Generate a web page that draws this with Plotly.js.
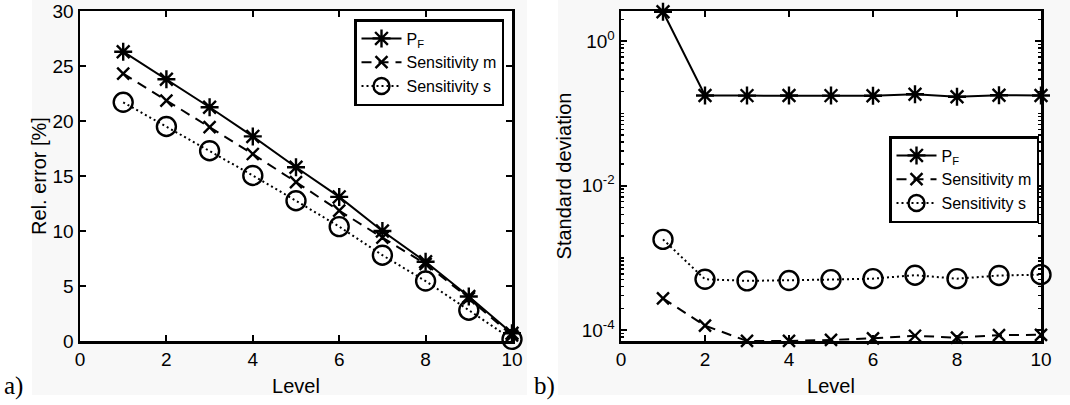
<!DOCTYPE html>
<html><head><meta charset="utf-8">
<script src="https://cdn.plot.ly/plotly-3.0.1.min.js"></script>
<style>html,body{margin:0;padding:0;background:#fff}</style>
</head><body>
<div id="chart" style="width:1070px;height:405px"></div>
<script>
const levels = [1,2,3,4,5,6,7,8,9,10];
// a) relative error [%]
const relErrPF   = [26.3, 23.8, 21.25, 18.6, 15.8, 13.1, 10.0, 7.2, 4.05, 0.7];
const relErrSensM = [24.3, 21.85, 19.45, 17.0, 14.45, 11.85, 9.4, 7.0, 3.9, 0.5];
const relErrSensS = [21.7, 19.5, 17.3, 15.05, 12.75, 10.4, 7.8, 5.45, 2.8, 0.15];
// b) standard deviation
const stdPF    = [2.55, 0.177, 0.176, 0.177, 0.176, 0.175, 0.184, 0.170, 0.178, 0.177];
const stdSensM = [2.75e-4, 1.15e-4, 7.08e-5, 7.08e-5, 7.3e-5, 7.7e-5, 8.35e-5, 7.85e-5, 8.5e-5, 8.6e-5];
const stdSensS = [1.8e-3, 5.05e-4, 4.8e-4, 4.85e-4, 5.0e-4, 5.15e-4, 5.75e-4, 5.15e-4, 5.7e-4, 5.85e-4];
const names = ['P<sub>F</sub>', 'Sensitivity m', 'Sensitivity s'];
const xTicks = [0,2,4,6,8,10];
const yTicksA = [0,5,10,15,20,25,30];
const yTicksB = [1e-4, 1e-2, 1];
const yTickTextB = ['10<sup>-4</sup>', '10<sup>-2</sup>', '10<sup>0</sup>'];

const styles = [
  {dash:'solid', symbol:'asterisk-open', size:15},
  {dash:'10px,7px', symbol:'x-thin-open', size:12},
  {dash:'2px,3px', symbol:'circle-open', size:19}
];
function mk(y, i, xa, ya, leg){
  return {x: levels, y: y, name: names[i], xaxis: xa, yaxis: ya, legend: leg,
    mode: 'lines+markers', cliponaxis: false,
    line: {color:'#000', width:2, dash: styles[i].dash},
    marker: {symbol: styles[i].symbol, size: styles[i].size, color:'#000', line:{color:'#000', width:2.4}}};
}
const data = [
  mk(relErrPF,0,'x','y','legend'), mk(relErrSensM,1,'x','y','legend'), mk(relErrSensS,2,'x','y','legend'),
  mk(stdPF,0,'x2','y2','legend2'), mk(stdSensM,1,'x2','y2','legend2'), mk(stdSensS,2,'x2','y2','legend2')
];
const font = {family:'Liberation Sans, Arial, sans-serif', size:19, color:'#000'};
const titleFont = {family:'Liberation Sans, Arial, sans-serif', size:20, color:'#000'};
const legFont = {family:'Liberation Sans, Arial, sans-serif', size:16, color:'#000'};
const axBase = {showgrid:false, zeroline:false, showline:true, linecolor:'#000', linewidth:2.5,
  mirror:'ticks', ticks:'inside', ticklen:6, tickwidth:2, tickcolor:'#000', tickfont:font,
  ticklabeloverflow:'allow'};
const W = 1070, H = 405;
const yTop = 394/H;
const layout = {
  width: W, height: H, margin:{l:0,r:0,t:0,b:0}, paper_bgcolor:'#fff', plot_bgcolor:'#fff',
  font: font, showlegend: true,
  xaxis: Object.assign({}, axBase, {domain:[80/W, 512/W], range:[0,10], tickvals:xTicks, anchor:'y',
    title:{text:'Level', font:titleFont, standoff:10}}),
  yaxis: Object.assign({}, axBase, {domain:[64/H, yTop], range:[0,30.0001], tickvals:yTicksA, anchor:'x',
    title:{text:'Rel. error [%]', font:titleFont, standoff:1}}),
  xaxis2: Object.assign({}, axBase, {domain:[621/W, 1041/W], range:[0,10], tickvals:xTicks, anchor:'y2',
    title:{text:'Level', font:titleFont, standoff:10}}),
  yaxis2: Object.assign({}, axBase, {domain:[64/H, yTop], type:'log', range:[Math.log10(7.06e-5), Math.log10(2.61)],
    tickmode:'array', tickvals:yTicksB, ticktext:yTickTextB, anchor:'x2',
    minor:{ticks:'inside', ticklen:3, tickwidth:1.5, tickcolor:'#000', dtick:'D1', showgrid:false},
    title:{text:'Standard deviation', font:titleFont, standoff:5}}),
  legend: {x:354/W, y:1-19/H, xanchor:'left', yanchor:'top', xref:'paper', yref:'paper',
    bgcolor:'#fff', bordercolor:'#000', borderwidth:2.5, font:legFont,
    tracegroupgap:0, itemwidth:40},
  legend2: {x:889/W, y:1-136/H, xanchor:'left', yanchor:'top', xref:'paper', yref:'paper',
    bgcolor:'#fff', bordercolor:'#000', borderwidth:2.5, font:legFont,
    tracegroupgap:0, itemwidth:40},
  shapes: [
    {type:'rect', xref:'paper', yref:'paper', x0:32/W, x1:527/W, y0:10/H, y1:1, fillcolor:'#f8f8f8', line:{width:0}, layer:'below'},
    {type:'rect', xref:'paper', yref:'paper', x0:558/W, x1:1, y0:10/H, y1:1, fillcolor:'#f8f8f8', line:{width:0}, layer:'below'},
    {type:'rect', xref:'paper', yref:'paper', x0:80/W, x1:512/W, y0:64/H, y1:yTop, fillcolor:'#fff', line:{width:0}, layer:'below'},
    {type:'rect', xref:'paper', yref:'paper', x0:621/W, x1:1041/W, y0:64/H, y1:yTop, fillcolor:'#fff', line:{width:0}, layer:'below'}
  ],
  annotations: [
    {text:'a)', xref:'paper', yref:'paper', x:2/W, y:1-386/H, xanchor:'left', yanchor:'middle', showarrow:false,
      font:{family:'Liberation Serif, Times New Roman, serif', size:25, color:'#000'}},
    {text:'b)', xref:'paper', yref:'paper', x:532/W, y:1-386/H, xanchor:'left', yanchor:'middle', showarrow:false,
      font:{family:'Liberation Serif, Times New Roman, serif', size:25, color:'#000'}}
  ]
};
Plotly.newPlot('chart', data, layout, {displayModeBar:false, staticPlot:true});
</script>
</body></html>
